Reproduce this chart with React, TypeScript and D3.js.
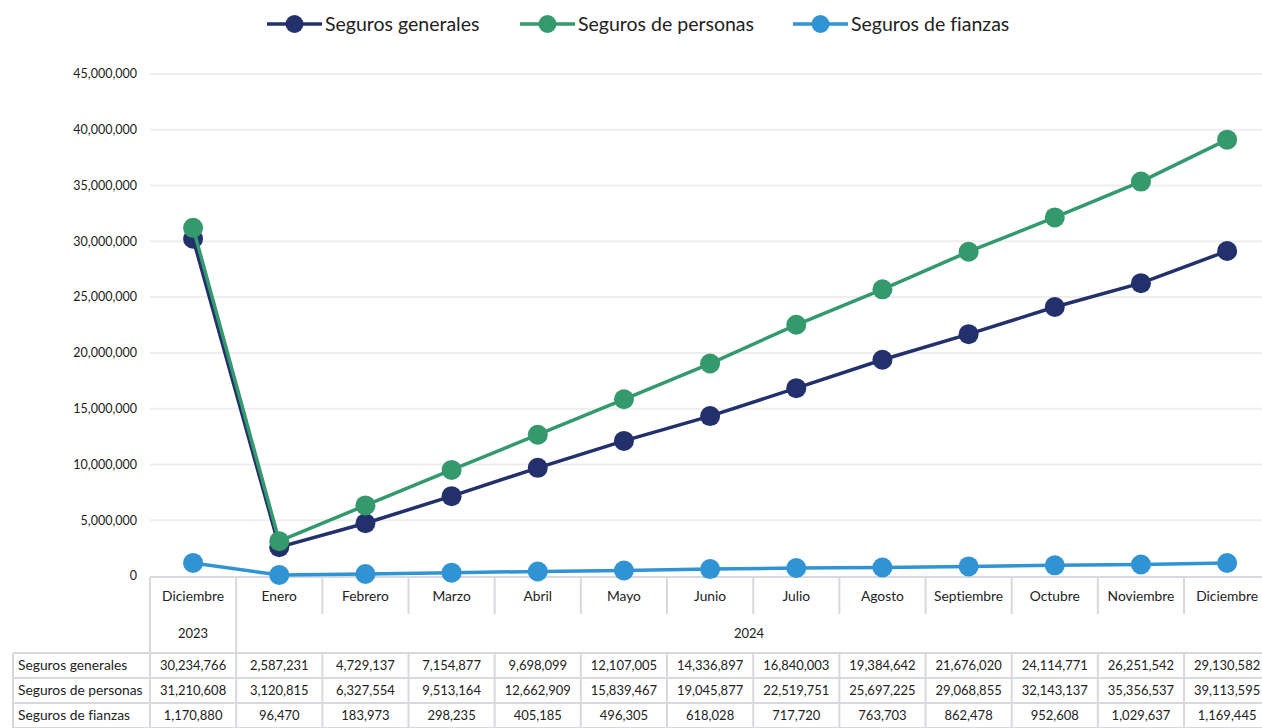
import * as d3 from "d3";
import React, { useEffect, useRef } from "react";

const months = [
  "Diciembre", "Enero", "Febrero", "Marzo", "Abril", "Mayo", "Junio",
  "Julio", "Agosto", "Septiembre", "Octubre", "Noviembre", "Diciembre",
];
const years = [
  { label: "2023", from: 0, to: 1 },
  { label: "2024", from: 1, to: 13 },
];
const generales = [
  30234766, 2587231, 4729137, 7154877, 9698099, 12107005, 14336897,
  16840003, 19384642, 21676020, 24114771, 26251542, 29130582,
];
const personas = [
  31210608, 3120815, 6327554, 9513164, 12662909, 15839467, 19045877,
  22519751, 25697225, 29068855, 32143137, 35356537, 39113595,
];
const fianzas = [
  1170880, 96470, 183973, 298235, 405185, 496305, 618028, 717720, 763703,
  862478, 952608, 1029637, 1169445,
];
const yTicks = [0, 5e6, 10e6, 15e6, 20e6, 25e6, 30e6, 35e6, 40e6, 45e6];

const series = [
  { name: "Seguros generales", values: generales, color: "#22306b" },
  { name: "Seguros de personas", values: personas, color: "#34996d" },
  { name: "Seguros de fianzas", values: fianzas, color: "#2f93d4" },
];

const W = 1262;
const H = 728;
const FONT = "Lato, 'Noto Sans', sans-serif";

const App = () => {
  const svgRef = useRef<SVGSVGElement>(null);

  useEffect(() => {
    const svg = d3.select(svgRef.current);
    svg.selectAll("*").remove();

    const left = 150;
    const colW = 86.17;
    const x = d3
      .scaleBand<number>()
      .domain(d3.range(months.length))
      .range([left, left + colW * months.length])
      .padding(0);
    const y = d3.scaleLinear().domain([0, 45e6]).range([576, 74]);
    const cx = (i: number) => (x(i) ?? 0) + x.bandwidth() / 2;
    const fmt = d3.format(",");
    const lineCol = "#d8d9de";

    // gridlines
    svg
      .selectAll("line.grid")
      .data(yTicks.slice(1))
      .enter()
      .append("line")
      .attr("x1", left)
      .attr("x2", W)
      .attr("y1", (d) => y(d))
      .attr("y2", (d) => y(d))
      .attr("stroke", "#eeeeee")
      .attr("stroke-width", 2);

    // y labels
    svg
      .selectAll("text.ytick")
      .data(yTicks)
      .enter()
      .append("text")
      .attr("x", 137)
      .attr("y", (d) => y(d))
      .attr("dy", "0.35em")
      .attr("text-anchor", "end")
      .style("font-family", FONT)
      .style("font-size", "12.5px")
      .style("fill", "#222")
      .text((d) => fmt(d));

    // table: category row
    const tableLines = svg.append("g").attr("stroke", lineCol).attr("stroke-width", 2);
    tableLines.append("line").attr("x1", left).attr("x2", W).attr("y1", 577).attr("y2", 577);
    d3.range(months.length + 1).forEach((i) => {
      const xx = left + colW * i;
      const longLine = i === 0 || i === 1;
      tableLines
        .append("line")
        .attr("x1", xx)
        .attr("x2", xx)
        .attr("y1", 577)
        .attr("y2", longLine ? 653 : 614);
    });
    // table: data rows
    const rowTop = 653;
    const rowH = 25;
    d3.range(series.length + 1).forEach((r) => {
      tableLines
        .append("line")
        .attr("x1", 13)
        .attr("x2", W)
        .attr("y1", rowTop + r * rowH)
        .attr("y2", rowTop + r * rowH);
    });
    [13, ...d3.range(months.length + 1).map((i) => left + colW * i)].forEach((xx) => {
      tableLines
        .append("line")
        .attr("x1", xx)
        .attr("x2", xx)
        .attr("y1", rowTop)
        .attr("y2", rowTop + rowH * series.length);
    });

    const txt = (size: number) =>
      svg
        .append("text")
        .style("font-family", FONT)
        .style("font-size", `${size}px`)
        .style("font-variant-ligatures", "none")
        .style("fill", "#222");

    months.forEach((m, i) => {
      txt(13.8).attr("x", cx(i)).attr("y", 596).attr("dy", "0.35em").attr("text-anchor", "middle").text(m);
    });
    years.forEach((yr) => {
      const mid = (left + colW * yr.from + Math.min(W, left + colW * yr.to)) / 2;
      txt(13).attr("x", mid).attr("y", 633).attr("dy", "0.35em").attr("text-anchor", "middle").text(yr.label);
    });
    series.forEach((s, r) => {
      const cy = rowTop + r * rowH + rowH / 2;
      txt(13.8).attr("x", 18).attr("y", cy).attr("dy", "0.35em").text(s.name);
      s.values.forEach((v, i) => {
        txt(13).attr("x", cx(i)).attr("y", cy).attr("dy", "0.35em").attr("text-anchor", "middle").text(fmt(v));
      });
    });

    // lines + markers
    const line = d3
      .line<number>()
      .x((_, i) => cx(i))
      .y((d) => y(d));
    series.forEach((s) => {
      svg
        .append("path")
        .datum(s.values)
        .attr("d", line)
        .attr("fill", "none")
        .attr("stroke", s.color)
        .attr("stroke-width", 3.5);
      svg
        .selectAll(null)
        .data(s.values)
        .enter()
        .append("circle")
        .attr("cx", (_, i) => cx(i))
        .attr("cy", (d) => y(d))
        .attr("r", 10)
        .attr("fill", s.color);
    });

    // legend
    const legendX = [267, 520, 793];
    series.forEach((s, i) => {
      const g = svg.append("g").attr("transform", `translate(${legendX[i]},24)`);
      g.append("line").attr("x1", 0).attr("x2", 55).attr("stroke", s.color).attr("stroke-width", 3.5);
      g.append("circle").attr("cx", 27.5).attr("r", 9).attr("fill", s.color);
      g.append("text")
        .attr("x", 58)
        .attr("dy", "0.35em")
        .style("font-family", FONT)
        .style("font-size", "19.5px")
        .style("font-variant-ligatures", "none")
        .style("fill", "#222")
        .text(s.name);
    });
  }, []);

  return (
    <svg
      ref={svgRef}
      width={W}
      height={H}
      style={{ position: "absolute", left: 0, top: 0, background: "#fff" }}
    ></svg>
  );
};

export default App;
